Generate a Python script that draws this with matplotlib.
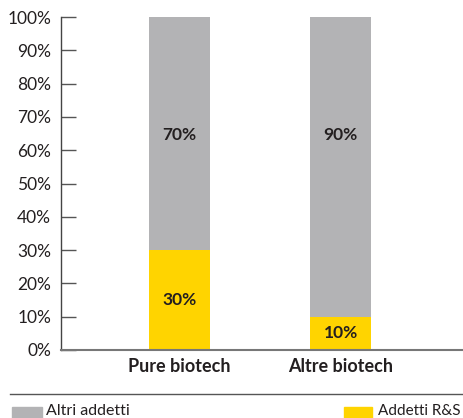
import matplotlib
matplotlib.use("Agg")
import matplotlib.pyplot as plt
from matplotlib.patches import Rectangle
from matplotlib.lines import Line2D

plt.rcParams["font.family"] = ["Lato", "DejaVu Sans"]

# data
categories = ["Pure biotech", "Altre biotech"]
addetti_rs = [30, 10]
altri_addetti = [70, 90]
legend_labels = ["Altri addetti", "Addetti R&S"]

GRAY = "#b3b3b5"
YELLOW = "#ffd400"
TEXT = "#231f20"

fig = plt.figure(figsize=(4.63, 4.18), dpi=100)
ax = fig.add_axes([61 / 463, 1 - 350 / 418, 1 - 61 / 463, (350 - 17) / 418])

x = range(len(categories))
ax.bar(x, addetti_rs, width=0.378, color=YELLOW, zorder=2)
ax.bar(x, altri_addetti, bottom=addetti_rs, width=0.378, color=GRAY, zorder=2)

# value labels
for i in x:
    ax.text(i, addetti_rs[i] / 2, f"{addetti_rs[i]}%", ha="center", va="center",
            fontsize=12.5, fontweight="bold", color=TEXT)
    ax.text(i, 64.5, f"{altri_addetti[i]}%", ha="center", va="center",
            fontsize=12.5, fontweight="bold", color=TEXT)

ax.set_xlim(-0.736, 1.758)
ax.set_ylim(0, 100)
ax.set_yticks(range(0, 101, 10))
ax.set_yticklabels([f"{v}%" for v in range(0, 101, 10)])
ax.set_xticks(list(x))
ax.set_xticklabels(categories, fontweight="bold")

ax.tick_params(axis="y", direction="in", length=11, width=1, color="#555555",
               labelsize=12.5, labelcolor=TEXT, pad=7)
ax.tick_params(axis="x", length=0, labelsize=13, labelcolor=TEXT, pad=6)

for s in ["top", "right"]:
    ax.spines[s].set_visible(False)
ax.spines["left"].set_color("#444444")
ax.spines["left"].set_linewidth(1)
ax.spines["bottom"].set_color("#777777")
ax.spines["bottom"].set_linewidth(1.5)

# separator line and legend below
fig.add_artist(Line2D([10 / 463, 1], [1 - 394 / 418, 1 - 394 / 418],
                      color="#555555", linewidth=1))
fig.add_artist(Rectangle((12 / 463, 0), 30 / 463, 11 / 418, color=GRAY,
                         transform=fig.transFigure))
fig.text(46 / 463, 1 - 415 / 418, legend_labels[0], fontsize=11.5, color=TEXT,
         va="baseline")
fig.add_artist(Rectangle((344 / 463, 0), 28 / 463, 11 / 418, color=YELLOW,
                         transform=fig.transFigure))
fig.text(461 / 463, 1 - 415 / 418, legend_labels[1], fontsize=11, color=TEXT,
         va="baseline", ha="right")

fig.savefig("out.png", dpi=100)
